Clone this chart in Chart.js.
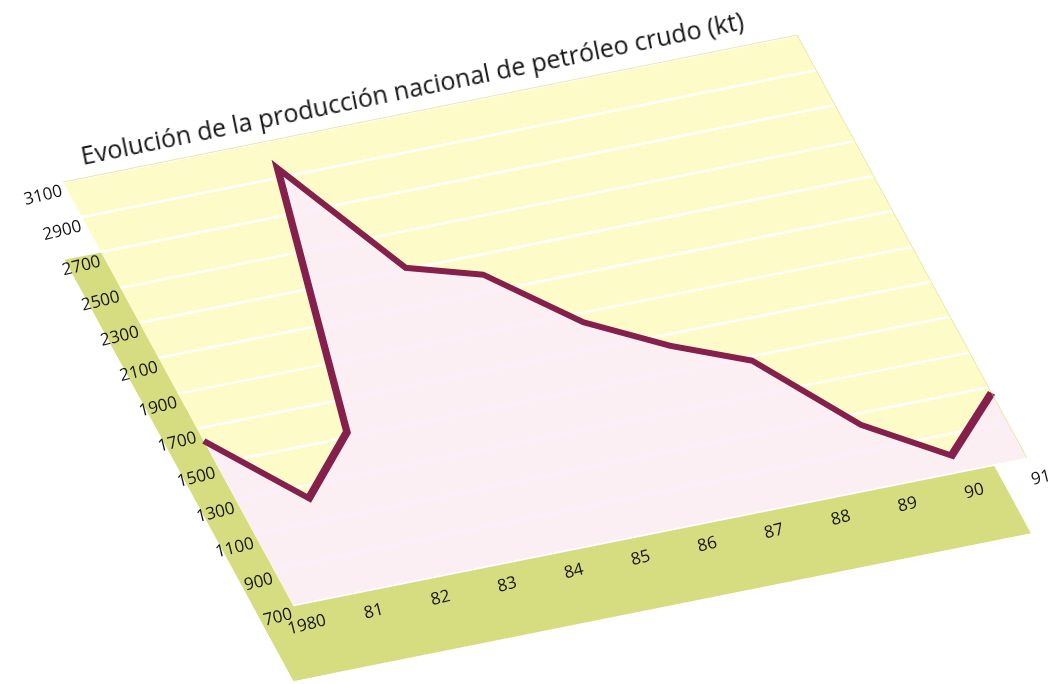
<!DOCTYPE html>
<html>
<head>
<meta charset="utf-8">
<script src="https://cdn.jsdelivr.net/npm/chart.js@4"></script>
<style>
  html, body { margin: 0; padding: 0; background: #ffffff; }
  #wrap { position: relative; width: 1056px; height: 684px; overflow: hidden; }
  #c { position: absolute; left: 0; top: 0; }
  #title {
    position: absolute; left: 83px; top: 143px;
    font-family: 'Open Sans', sans-serif; font-size: 25px; line-height: 24px;
    color: #141414; white-space: nowrap;
    transform: rotate(-11.6deg); transform-origin: 0 22px;
  }
</style>
</head>
<body>
<div id="wrap">
  <canvas id="c" width="1056" height="684"></canvas>
  <div id="title">Evolución de la producción nacional de petróleo crudo (kt)</div>
</div>
<script>
// ---- data ----
const years = ['1980', '81', '82', '83', '84', '85', '86', '87', '88', '89', '90', '91'];
const production = [1630, 1230, 1530, 2950, 2310, 2195, 1850, 1640, 1480, 1040, 790, 1070];
const yTickValues = [700, 900, 1100, 1300, 1500, 1700, 1900, 2100, 2300, 2500, 2700, 2900, 3100];
const bandTopValue = 2700;

// ---- styling ----
const plotYellow = '#fdfcc8';
const bandGreen = '#d6dd80';
const lineColor = '#851f4c';
const fillPink = 'rgba(250,236,252,0.85)';

// target parallelogram for the plot area on screen
const TL = {x: 63, y: 182};
const TR = {x: 797, y: 35};
const BL = {x: 293, y: 605};

function matrixFor(ca) {
  const W = ca.right - ca.left, H = ca.bottom - ca.top;
  const a = (TR.x - TL.x) / W, b = (TR.y - TL.y) / W;
  const c = (BL.x - TL.x) / H, d = (BL.y - TL.y) / H;
  const e = TL.x - a * ca.left - c * ca.top;
  const f = TL.y - b * ca.left - d * ca.top;
  return {a, b, c, d, e, f};
}
function toScreen(m, x, y) {
  return {x: m.a * x + m.c * y + m.e, y: m.b * x + m.d * y + m.f};
}

const skewPlugin = {
  id: 'skewPlugin',
  beforeDraw(chart) {
    const ctx = chart.ctx, ca = chart.chartArea;
    const m = matrixFor(ca);
    const xs = chart.scales.x, ys = chart.scales.y;
    ctx.save();
    ctx.transform(m.a, m.b, m.c, m.d, m.e, m.f);
    const H = ca.bottom - ca.top;
    const bandLeft = xs.getPixelForValue(-0.55);
    const bandRight = xs.getPixelForValue(10.5);
    const bandBottom = ca.bottom + 0.162 * H;
    const bandTop = ys.getPixelForValue(bandTopValue);
    ctx.fillStyle = bandGreen;
    ctx.fillRect(bandLeft, bandTop, ca.left - bandLeft, bandBottom - bandTop);
    ctx.fillRect(bandLeft, ca.bottom, bandRight - bandLeft, bandBottom - ca.bottom);
    ctx.fillStyle = plotYellow;
    ctx.fillRect(ca.left, ca.top, ca.right - ca.left, ca.bottom - ca.top);
  },
  afterDraw(chart) {
    const ctx = chart.ctx, ca = chart.chartArea;
    // faint edge of the plot panel (still in skewed space)
    ctx.strokeStyle = 'rgba(214,214,120,0.55)';
    ctx.lineWidth = 1;
    ctx.beginPath();
    ctx.moveTo(ca.left, ca.top);
    ctx.lineTo(ca.right, ca.top);
    ctx.lineTo(ca.right, ca.bottom);
    ctx.stroke();
    ctx.restore();

    const m = matrixFor(ca);
    const xs = chart.scales.x, ys = chart.scales.y;
    const ang = -14 * Math.PI / 180;
    ctx.save();
    ctx.font = '17px "Open Sans", sans-serif';
    ctx.fillStyle = '#141414';
    ys.ticks.forEach(t => {
      const p = toScreen(m, ca.left, ys.getPixelForValue(t.value));
      ctx.save();
      ctx.translate(p.x - 1, p.y + 9);
      ctx.rotate(ang);
      ctx.textAlign = 'right';
      ctx.textBaseline = 'middle';
      ctx.fillText(t.label, 0, 0);
      ctx.restore();
    });
    xs.ticks.forEach((t, i) => {
      const p = toScreen(m, xs.getPixelForTick(i), ca.bottom);
      ctx.save();
      ctx.translate(p.x + 14, p.y + 20);
      ctx.rotate(ang);
      ctx.textAlign = 'center';
      ctx.textBaseline = 'middle';
      ctx.fillText(xs.getLabelForValue(t.value), 0, 0);
      ctx.restore();
    });
    ctx.restore();
  }
};

new Chart(document.getElementById('c'), {
  type: 'line',
  data: {
    labels: years,
    datasets: [{
      data: production,
      borderColor: lineColor,
      borderWidth: 7,
      borderJoinStyle: 'miter',
      backgroundColor: fillPink,
      fill: 'start',
      tension: 0,
      pointRadius: 0
    }]
  },
  options: {
    responsive: false,
    animation: false,
    devicePixelRatio: 1,
    layout: { padding: { left: 100, right: 222, top: 100, bottom: 100 } },
    plugins: { legend: { display: false }, title: { display: false }, tooltip: { enabled: false } },
    scales: {
      x: {
        offset: false,
        grid: { display: false, drawTicks: false },
        border: { display: false },
        ticks: { display: false }
      },
      y: {
        min: 700, max: 3100,
        afterBuildTicks: s => { s.ticks = yTickValues.map(v => ({value: v})); },
        grid: { color: '#ffffff', lineWidth: 2.5, drawTicks: false },
        border: { display: false },
        ticks: { display: false, callback: v => String(v) }
      }
    }
  },
  plugins: [skewPlugin]
});
</script>
</body>
</html>
